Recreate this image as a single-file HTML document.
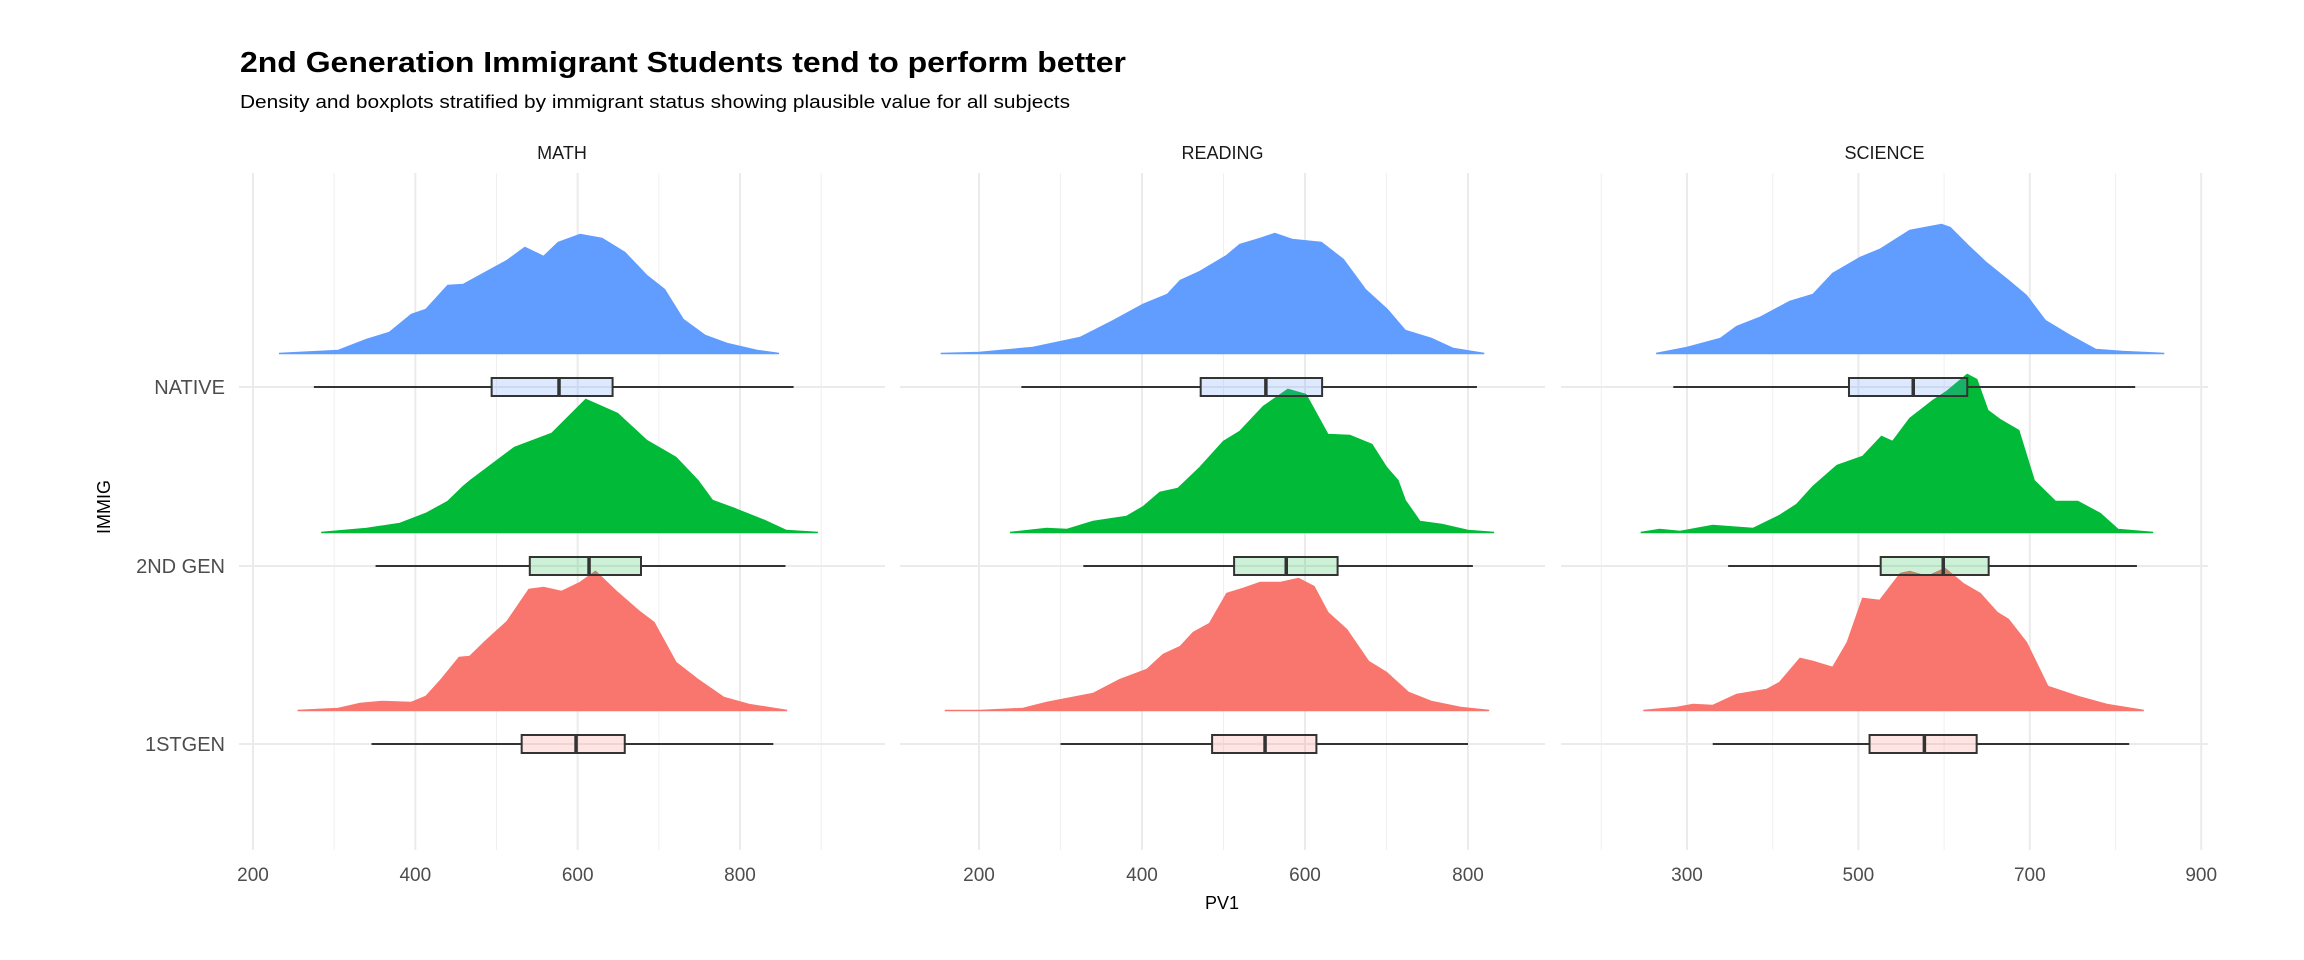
<!DOCTYPE html>
<html><head><meta charset="utf-8">
<style>
html,body{margin:0;padding:0;background:#fff;}
svg{display:block;font-family:"Liberation Sans",Arial,sans-serif;}
</style></head>
<body>
<svg id="chart" width="2304" height="960" viewBox="0 0 2304 960" xmlns="http://www.w3.org/2000/svg">
<text x="240" y="72" font-size="29" font-weight="bold" fill="#000" textLength="886" lengthAdjust="spacingAndGlyphs">2nd Generation Immigrant Students tend to perform better</text>
<text x="240" y="108" font-size="18" fill="#000" textLength="830" lengthAdjust="spacingAndGlyphs">Density and boxplots stratified by immigrant status showing plausible value for all subjects</text>
<text transform="translate(110,507) rotate(-90)" text-anchor="middle" font-size="18" fill="#000">IMMIG</text>
<text x="1222" y="909" text-anchor="middle" font-size="18" fill="#000">PV1</text>
<g id="panels"></g>
</svg>
<script>
// ---- data ----
const groups = ["NATIVE", "2ND GEN", "1STGEN"];
const subjects = ["MATH", "READING", "SCIENCE"];

const mathNativeX = [232,305,340,368,395,413,440,459,486,513,535,558,576,603,630,658,685,707,730,757,784,821,848];
const mathNativeD = [0,3,14,21,39,44,68,69,81,93,106,97,111,119,115,101,78,64,34,18,10,3,0];
const math2ndX = [284,340,381,413,440,459,468,522,568,610,649,685,721,748,766,793,830,857,896];
const math2ndD = [0,4,9,19,31,46,52,85,99,133,119,92,75,52,32,24,12,2,0];
const math1stX = [255,305,332,359,395,413,432,454,467,486,513,540,558,580,603,622,649,676,694,721,748,780,811,858];
const math1stD = [0,2,7,9,8,14,31,53,54,69,89,121,123,119,128,139,118,99,88,48,31,13,6,0];

const readNativeX = [153,200,266,324,365,401,431,447,471,504,520,545,563,584,620,647,674,701,723,755,782,820];
const readNativeD = [0,1,6,16,33,49,59,73,82,98,109,115,120,114,111,94,64,44,23,15,5,0];
const read2ndX = [238,283,308,340,381,402,422,444,471,500,520,549,579,601,628,655,682,700,714,723,741,768,800,832];
const read2ndD = [0,4,3,11,16,26,40,44,65,91,101,126,143,138,98,97,88,65,52,32,11,8,2,0];
const read1stX = [158,201,254,283,340,373,406,426,447,463,483,504,524,545,570,592,611,628,651,678,700,727,755,791,826];
const read1stD = [0,0,2,8,17,31,41,56,64,78,87,117,122,128,128,132,124,98,81,49,38,18,9,3,0];

const sciNativeX = [264,300,339,358,385,420,447,470,502,525,560,597,607,628,649,675,696,718,747,777,808,857];
const sciNativeD = [0,6,15,27,36,52,59,80,96,104,123,129,126,108,91,73,58,33,18,4,2,0];
const sci2ndX = [246,268,292,330,377,408,428,447,475,505,527,540,560,587,603,627,638,651,665,687,705,730,756,782,803,844];
const sci2ndD = [0,3,1,7,4,17,28,46,67,76,96,91,114,132,141,158,153,122,113,102,52,31,31,19,3,0];
const sci1stX = [249,288,307,330,358,393,408,432,447,470,487,505,525,549,560,580,601,622,642,662,675,696,721,756,790,833];
const sci1stD = [0,3,6,5,16,21,28,52,49,43,68,112,110,137,139,134,142,127,117,98,91,68,24,14,6,0];

// boxplot stats: [lowerWhisker, Q1, median, Q3, upperWhisker]
const mathBoxNative = [275,494,577,643,866];
const mathBox2nd = [351,541,614,678,856];
const mathBox1st = [346,531,598,658,841];
const readBoxNative = [252,472,552,621,811];
const readBox2nd = [328,513,577,640,806];
const readBox1st = [300,486,551,614,800];
const sciBoxNative = [284,489,564,627,823];
const sciBox2nd = [348,526,599,652,825];
const sciBox1st = [330,513,577,638,816];

const mathTicks = [200,400,600,800];
const readTicks = [200,400,600,800];
const sciTicks = [300,500,700,900];
const mathMinor = [300,500,700,900];
const readMinor = [300,500,700];
const sciMinor = [200,400,600,800];

// ---- layout ----
const NS = "http://www.w3.org/2000/svg";
const panelTop = 173, panelBottom = 850;
const rowY = {"NATIVE":387, "2ND GEN":566, "1STGEN":744};
const fills = {"NATIVE":"#619CFF", "2ND GEN":"#00BA38", "1STGEN":"#F8766D"};
const boxFills = {"NATIVE":"rgba(97,156,255,0.22)", "2ND GEN":"rgba(0,186,56,0.2)", "1STGEN":"rgba(248,118,109,0.2)"};
const panelDefs = [
  {name:"MATH", left:239, right:885, v0:200, p0:253, k:0.8117, ticks:mathTicks, minor:mathMinor,
   dens:[[mathNativeX,mathNativeD],[math2ndX,math2ndD],[math1stX,math1stD]], box:[mathBoxNative,mathBox2nd,mathBox1st]},
  {name:"READING", left:900, right:1545, v0:200, p0:979, k:0.815, ticks:readTicks, minor:readMinor,
   dens:[[readNativeX,readNativeD],[read2ndX,read2ndD],[read1stX,read1stD]], box:[readBoxNative,readBox2nd,readBox1st]},
  {name:"SCIENCE", left:1561, right:2208, v0:300, p0:1687, k:0.857, ticks:sciTicks, minor:sciMinor,
   dens:[[sciNativeX,sciNativeD],[sci2ndX,sci2ndD],[sci1stX,sci1stD]], box:[sciBoxNative,sciBox2nd,sciBox1st]}
];
function mk(tag, attrs, parent){
  const e = document.createElementNS(NS, tag);
  for (const k in attrs) e.setAttribute(k, attrs[k]);
  parent.appendChild(e); return e;
}
const root = document.getElementById("panels");

// y-axis group labels
groups.forEach(g => {
  const t = mk("text", {x:225, y:rowY[g]+7, "text-anchor":"end", "font-size":20, fill:"#4d4d4d"}, root);
  
  
  t.textContent = g;
});

panelDefs.forEach(p => {
  const xs = v => p.p0 + (v - p.v0) * p.k;
  const ys = (g, d) => rowY[g] - 33.5 - d;
  const pg = mk("g", {}, root);
  
  
  const cx = (p.left + p.right) / 2;
  const st = mk("text", {x:cx, y:159, "text-anchor":"middle", "font-size":18, fill:"#1a1a1a"}, pg);
  
  
  st.textContent = p.name;
  // minor grid
  p.minor.forEach(v => {
    const l = mk("line", {x1:xs(v), x2:xs(v), y1:panelTop, y2:panelBottom, stroke:"#f0f0f0", "stroke-width":1}, pg);
    
    
  });
  p.ticks.forEach(v => {
    const l = mk("line", {x1:xs(v), x2:xs(v), y1:panelTop, y2:panelBottom, stroke:"#ebebeb", "stroke-width":2}, pg);
    
    
    const t = mk("text", {x:xs(v), y:881, "text-anchor":"middle", "font-size":19, fill:"#4d4d4d"}, pg);
    
    
    t.textContent = v;
  });
  groups.forEach(g => {
    const l = mk("line", {x1:p.left, x2:p.right, y1:rowY[g], y2:rowY[g], stroke:"#ebebeb", "stroke-width":2}, pg);
    
    
  });
  // densities
  groups.forEach((g, i) => {
    const [X, D] = p.dens[i];
    let d = "M" + xs(X[0]) + "," + ys(g, 0);
    for (let j = 0; j < X.length; j++) d += " L" + xs(X[j]).toFixed(1) + "," + ys(g, D[j]).toFixed(1);
    d += " L" + xs(X[X.length-1]).toFixed(1) + "," + ys(g, 0) + " Z";
    const path = mk("path", {d:d, fill:fills[g], stroke:fills[g], "stroke-width":1.5}, pg);
    
    
  });
  // boxplots
  groups.forEach((g, i) => {
    const b = p.box[i]; const y = rowY[g];
    const bg = mk("g", {}, pg);
    
    
    mk("line", {x1:xs(b[0]), x2:xs(b[1]), y1:y, y2:y, stroke:"#333", "stroke-width":2}, bg);
    mk("line", {x1:xs(b[3]), x2:xs(b[4]), y1:y, y2:y, stroke:"#333", "stroke-width":2}, bg);
    mk("rect", {x:xs(b[1]), y:y-9, width:xs(b[3])-xs(b[1]), height:18, fill:boxFills[g], stroke:"#333", "stroke-width":2}, bg);
    mk("line", {x1:xs(b[2]), x2:xs(b[2]), y1:y-9, y2:y+9, stroke:"#333", "stroke-width":3.5}, bg);
  });
});
</script>
</body></html>
